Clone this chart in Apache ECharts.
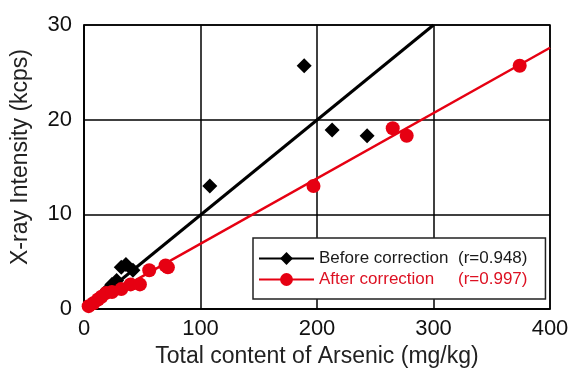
<!DOCTYPE html>
<html>
<head>
<meta charset="utf-8">
<script src="https://cdn.jsdelivr.net/npm/echarts@6/dist/echarts.min.js"></script>
<style>
  html, body { margin: 0; padding: 0; background: #fff; }
  #chart { width: 573px; height: 373px; }
</style>
</head>
<body>
<div id="chart"></div>
<script>
// values
const beforePoints = [
  [8, 0.6], [15, 1.3], [20, 2.0], [24, 2.6], [28, 3.0],
  [32, 4.4], [36, 4.7], [42, 4.1],
  [108, 13.0], [189, 25.7], [213, 18.9], [243, 18.3]
];
const afterPoints = [
  [4, 0.3], [8, 0.6], [12, 1.0], [15, 1.3], [19, 1.7], [24, 1.8],
  [32, 2.1], [40, 2.6], [48, 2.6], [56, 4.1], [70, 4.6], [72, 4.4],
  [197, 13.0], [265, 19.1], [277, 18.3], [374, 25.7]
];
// fitted lines (end points)
const beforeFit = [[5, 0.4], [300, 30]];
const afterFit = [[3, 0.2], [400, 27.6]];

const seriesNames = ['Before correction', 'After correction'];
const rValues = ['(r=0.948)', '(r=0.997)'];

const RED = '#e60012';
const FONT = '"Liberation Sans", Arial, sans-serif';

const chart = echarts.init(document.getElementById('chart'));

const option = {
  animation: false,
  textStyle: { fontFamily: FONT },
  grid: {
    left: 84, right: 23, top: 25, bottom: 62,
    show: true, borderColor: '#000', borderWidth: 1.5
  },
  xAxis: {
    type: 'value', min: 0, max: 400, interval: 100,
    name: 'Total content of Arsenic (mg/kg)',
    nameLocation: 'middle', nameGap: 36,
    nameTextStyle: { fontSize: 23, color: '#222', fontFamily: FONT },
    axisLine: { show: true, lineStyle: { color: '#000', width: 1.5 } },
    axisTick: { show: false },
    axisLabel: { fontSize: 22, color: '#111', margin: 9, fontFamily: FONT },
    splitLine: { show: true, lineStyle: { color: '#000', width: 1.5 } }
  },
  yAxis: {
    type: 'value', min: 0, max: 30, interval: 10,
    name: 'X-ray Intensity (kcps)',
    nameLocation: 'middle', nameGap: 52,
    nameTextStyle: { fontSize: 23, color: '#222', fontFamily: FONT, padding: [0, 0, 0, 20] },
    axisLine: { show: true, lineStyle: { color: '#000', width: 1.5 } },
    axisTick: { show: false },
    axisLabel: { fontSize: 22, color: '#111', margin: 12, fontFamily: FONT },
    splitLine: { show: true, lineStyle: { color: '#000', width: 1.5 } }
  },
  legend: {
    orient: 'vertical',
    left: 253, top: 238,
    padding: [12, 18, 11, 5],
    itemGap: 4,
    itemWidth: 55, itemHeight: 16,
    itemTextGap: 1,
    backgroundColor: '#fff',
    borderColor: '#222', borderWidth: 1.5,
    data: [
      { name: seriesNames[0], textStyle: { color: '#1a1a1a' } },
      { name: seriesNames[1], textStyle: { color: '#dd1122' } }
    ],
    formatter: name => {
      const i = seriesNames.indexOf(name);
      return '{a|' + name + '}{b|' + rValues[i] + '}';
    },
    textStyle: {
      fontSize: 17, fontFamily: FONT,
      rich: {
        a: { fontSize: 17, width: 139, fontFamily: FONT },
        b: { fontSize: 17, fontFamily: FONT }
      }
    }
  },
  series: [
    {
      name: seriesNames[0], type: 'line', data: beforeFit,
      symbol: 'diamond', symbolSize: 13, showSymbol: false,
      itemStyle: { color: '#000' },
      lineStyle: { color: '#000', width: 3 }, z: 2
    },
    {
      name: 'before-points', type: 'scatter', data: beforePoints,
      symbol: 'diamond', symbolSize: 15,
      itemStyle: { color: '#000', opacity: 1 }, z: 3
    },
    {
      name: seriesNames[1], type: 'line', data: afterFit,
      symbol: 'circle', symbolSize: 13, showSymbol: false,
      itemStyle: { color: RED },
      lineStyle: { color: RED, width: 2.5 }, z: 4
    },
    {
      name: 'after-points', type: 'scatter', data: afterPoints,
      symbol: 'circle', symbolSize: 14,
      itemStyle: { color: RED, opacity: 1 }, z: 5
    }
  ]
};

chart.setOption(option);
</script>
</body>
</html>
